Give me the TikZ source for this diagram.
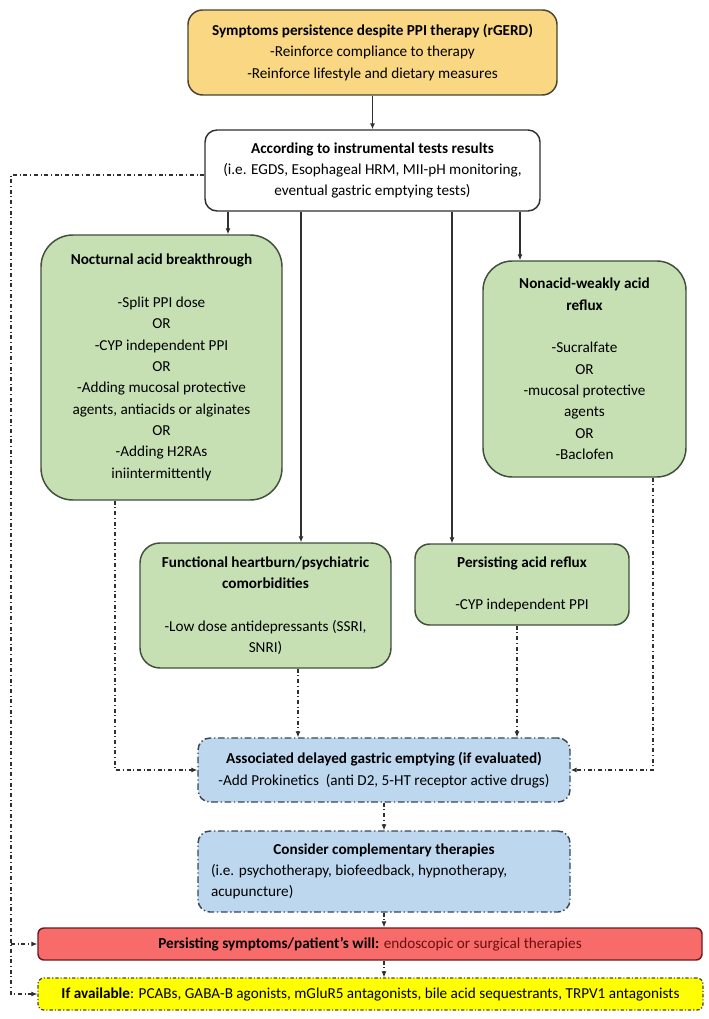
\documentclass[tikz,border=0pt]{standalone}
\usepackage{fontspec}
\setmainfont{Carlito}
\usetikzlibrary{arrows.meta}
\definecolor{topfill}{HTML}{FAD783}
\definecolor{topdraw}{HTML}{4A4230}
\definecolor{greenfill}{HTML}{C6E0B4}
\definecolor{greendraw}{HTML}{3F4F3A}
\definecolor{bluefill}{HTML}{BDD7EE}
\definecolor{bluedraw}{HTML}{3A4658}
\definecolor{redfill}{HTML}{F86B6B}
\definecolor{reddraw}{HTML}{6E1A1A}
\definecolor{redtext}{HTML}{6E0F0F}
\definecolor{yelfill}{HTML}{FFFF00}
\definecolor{yeldraw}{HTML}{4A4A2A}
\definecolor{linegray}{HTML}{303030}
\begin{document}
\begin{tikzpicture}[x=0.75pt,y=-0.75pt,
  base/.style={line width=1.1pt, align=center, inner sep=0pt, text=black,
    font=\fontsize{11.4pt}{16pt}\selectfont},
  topbox/.style={base, fill=topfill, draw=topdraw, rounded corners=11pt},
  whitebox/.style={base, fill=white, draw=linegray, rounded corners=9pt},
  greenbox/.style={base, fill=greenfill, draw=greendraw},
  bluebox/.style={base, fill=bluefill, draw=bluedraw, rounded corners=9pt,
    dash pattern=on 5pt off 2pt on 1pt off 2pt},
  redbox/.style={base, fill=redfill, draw=reddraw, rounded corners=4.5pt},
  yelbox/.style={base, fill=yelfill, draw=yeldraw, rounded corners=4.5pt,
    line width=1pt, dash pattern=on 2.5pt off 1.5pt on 0.8pt off 1.5pt},
  arr/.style={draw=linegray, line width=0.8pt, -{Latex[length=4.5pt,width=3.8pt]}},
  dd/.style={arr, dash pattern=on 3pt off 2pt on 0.8pt off 2pt}
]
\useasboundingbox (0,0) rectangle (708,1019);

\node[topbox, minimum width=276.75pt, minimum height=63.75pt] (top) at (372.5,52.5)
  {\textbf{Symptoms persistence despite PPI therapy (rGERD)}\\-Reinforce compliance to therapy\\-Reinforce lifestyle and dietary measures};

\node[whitebox, minimum width=251.25pt, minimum height=60.75pt] (tests) at (372.5,170.5)
  {\textbf{According to instrumental tests results}\\(i.e. EGDS, Esophageal HRM, MII-pH monitoring,\\eventual gastric emptying tests)};

\node[greenbox, rounded corners=24pt, minimum width=180.75pt, minimum height=198.75pt] (noct) at (161.5,367.5)
  {\textbf{Nocturnal acid breakthrough}\\[16pt]-Split PPI dose\\OR\\-CYP independent PPI\\OR\\-Adding mucosal protective\\agents, antiacids or alginates\\OR\\-Adding H2RAs\\iniintermittently};

\node[greenbox, rounded corners=22pt, minimum width=152.25pt, minimum height=162pt] (nonacid) at (584.5,369)
  {\textbf{Nonacid-weakly acid}\\\textbf{reflux}\\[16pt]-Sucralfate\\OR\\-mucosal protective\\agents\\OR\\-Baclofen};

\node[greenbox, rounded corners=15pt, minimum width=188.25pt, minimum height=93.75pt] (func) at (265.5,605.5)
  {\textbf{Functional heartburn/psychiatric}\\\textbf{comorbidities}\\[16pt]-Low dose antidepressants (SSRI,\\SNRI)};

\node[greenbox, rounded corners=11pt, minimum width=160.5pt, minimum height=60.75pt] (persist) at (522,584.5)
  {\textbf{Persisting acid reflux}\\[16pt]-CYP independent PPI};

\node[bluebox, minimum width=279pt, minimum height=48pt] (assoc) at (384,770)
  {\textbf{Associated delayed gastric emptying (if evaluated)}\\-Add Prokinetics\ \ (anti D2, 5-HT receptor active drugs)};

\node[bluebox, align=left, inner xsep=9.75pt, minimum width=279pt, minimum height=60.75pt] (consider) at (384,871.5)
  {\makebox[259.5pt][c]{\textbf{Consider complementary therapies}}\\\makebox[259.5pt][l]{(i.e. psychotherapy, biofeedback, hypnotherapy,}\\\makebox[259.5pt][l]{acupuncture)}};

\node[redbox, minimum width=498pt, minimum height=24pt] (red) at (370,944)
  {\textbf{Persisting symptoms/patient’s will:} \textcolor{redtext}{endoscopic or surgical therapies}};

\node[yelbox, minimum width=498.75pt, minimum height=24pt] (yel) at (370.5,994)
  {\textbf{If available}: PCABs, GABA-B agonists, mGluR5 antagonists, bile acid sequestrants, TRPV1 antagonists};

% x positions of connectors
\coordinate (xa) at (228,0);
\coordinate (xb) at (301,0);
\coordinate (xc) at (452,0);
\coordinate (xd) at (520,0);
\coordinate (xn) at (115,0);
\coordinate (xm) at (653,0);
\coordinate (xf) at (298,0);
\coordinate (xp) at (517,0);
\coordinate (lt) at (11,175);

\draw[arr] (top.south) -- (tests.north);
\draw[arr] (tests.south -| xa) -- (noct.north -| xa);
\draw[arr] (tests.south -| xb) -- (func.north -| xb);
\draw[arr] (tests.south -| xc) -- (persist.north -| xc);
\draw[arr] (tests.south -| xd) -- (nonacid.north -| xd);

\draw[dd] (tests.west |- lt) -- (lt) -- (lt |- yel.west) -- (yel.west);
\draw[dd] (lt |- red.west) -- (red.west);

\draw[dd] (noct.south -| xn) -- (xn |- assoc.west) -- (assoc.west);
\draw[dd] (nonacid.south -| xm) -- (xm |- assoc.east) -- (assoc.east);
\draw[dd] (func.south -| xf) -- (assoc.north -| xf);
\draw[dd] (persist.south -| xp) -- (assoc.north -| xp);
\draw[dd] (assoc.south) -- (consider.north);
\draw[dd] (consider.south) -- (red.north -| consider.south);
\draw[dd] (red.south -| consider.south) -- (yel.north -| consider.south);
\end{tikzpicture}
\end{document}
